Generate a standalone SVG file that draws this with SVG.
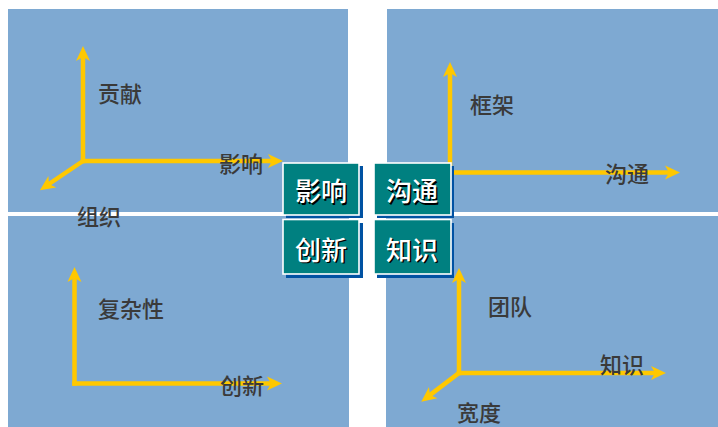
<svg xmlns="http://www.w3.org/2000/svg" width="718" height="427" viewBox="0 0 718 427">
  <style>
    .panel { fill: #7EA9D2; }
    .axis { stroke: #FFC800; stroke-width: 4.5; stroke-linecap: square; fill: none; marker-end: url(#head); }
    .lbl { font-family: "Noto Sans CJK SC", "Noto Sans", sans-serif; font-size: 22px; font-weight: 500; fill: #3A3A3A; }
    .box { fill: #008080; stroke: #FFFFFF; stroke-width: 1.6; }
    .shadow { fill: #0052A3; }
    .bt { font-family: "Noto Sans CJK SC", "Noto Sans", sans-serif; font-size: 26px; font-weight: 500; text-anchor: middle; }
    .bts { fill: #000000; }
    .btw { fill: #FFFFFF; }
  </style>
  <defs>
    <marker id="head" markerUnits="userSpaceOnUse" markerWidth="16" markerHeight="16" viewBox="0 -8 16 16" refX="4" refY="0" orient="auto">
      <path d="M0,-7 L15,0 L0,7 L4,0 Z" fill="#FFC800"/>
    </marker>
  </defs>
  <rect width="718" height="427" fill="#FFFFFF"/>
  <g id="panels">
    <rect class="panel" x="8" y="9" width="340" height="203"/>
    <rect class="panel" x="387" y="9" width="331" height="203"/>
    <rect class="panel" x="8" y="216" width="341" height="211"/>
    <rect class="panel" x="386" y="216" width="332" height="211"/>
  </g>
  <g id="connectors">
    <line class="axis" x1="83" y1="161" x2="83" y2="57"/>
    <line class="axis" x1="83" y1="161" x2="272" y2="161"/>
    <line class="axis" x1="83" y1="161" x2="49" y2="184"/>
    <line class="axis" x1="450" y1="172.5" x2="450" y2="73"/>
    <line class="axis" x1="450" y1="172.5" x2="669" y2="172.5"/>
    <line class="axis" x1="74.5" y1="383.5" x2="74.5" y2="278"/>
    <line class="axis" x1="74.5" y1="383.5" x2="271" y2="383.5"/>
    <line class="axis" x1="459" y1="373" x2="459" y2="279"/>
    <line class="axis" x1="459" y1="373" x2="655" y2="373"/>
    <line class="axis" x1="459" y1="373" x2="430" y2="395"/>
  </g>
  <g id="labels">
    <text class="lbl" x="98" y="102">贡献</text>
    <text class="lbl" x="219" y="172">影响</text>
    <text class="lbl" x="77" y="225">组织</text>
    <text class="lbl" x="470" y="113">框架</text>
    <text class="lbl" x="605" y="182">沟通</text>
    <text class="lbl" x="98" y="317">复杂性</text>
    <text class="lbl" x="220" y="394">创新</text>
    <text class="lbl" x="488" y="315">团队</text>
    <text class="lbl" x="600" y="373">知识</text>
    <text class="lbl" x="457" y="421">宽度</text>
  </g>
  <g id="node-yingxiang">
    <rect class="shadow" x="286" y="166" width="77" height="52"/>
    <rect class="box" x="283" y="163" width="76" height="52"/>
    <text class="bt bts" x="322.5" y="202.5">影响</text>
    <text class="bt btw" x="321" y="201">影响</text>
  </g>
  <g id="node-goutong">
    <rect class="shadow" x="377" y="166" width="77" height="52"/>
    <rect class="box" x="374" y="163" width="77" height="52"/>
    <text class="bt bts" x="413.5" y="202.5">沟通</text>
    <text class="bt btw" x="412" y="201">沟通</text>
  </g>
  <g id="node-chuangxin">
    <rect class="shadow" x="286" y="223" width="77" height="55"/>
    <rect class="box" x="283" y="219.5" width="76" height="54.5"/>
    <text class="bt bts" x="322.5" y="261">创新</text>
    <text class="bt btw" x="321" y="259.5">创新</text>
  </g>
  <g id="node-zhishi">
    <rect class="shadow" x="377" y="223" width="77" height="55"/>
    <rect class="box" x="374" y="219.5" width="77" height="54.5"/>
    <text class="bt bts" x="413.5" y="261">知识</text>
    <text class="bt btw" x="412" y="259.5">知识</text>
  </g>
</svg>
